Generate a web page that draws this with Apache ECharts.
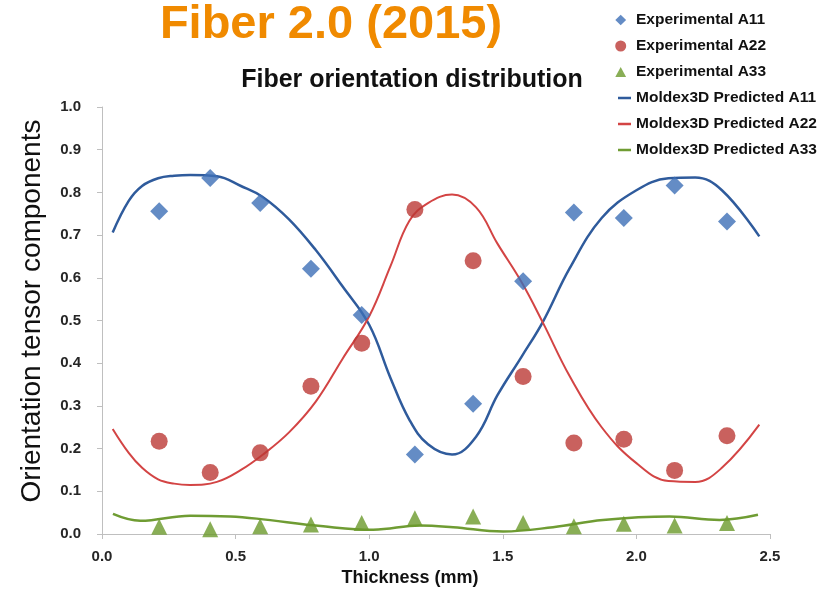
<!DOCTYPE html>
<html>
<head>
<meta charset="utf-8">
<script src="https://cdn.jsdelivr.net/npm/echarts@6/dist/echarts.min.js"></script>
<style>
  html, body { margin: 0; padding: 0; background: #fff; }
  #chart { width: 832px; height: 590px; }
</style>
</head>
<body>
<div id="chart"></div>
<script>
// measured points (thickness in mm)
const expThickness = [0.214, 0.405, 0.592, 0.782, 0.972, 1.171, 1.389, 1.576, 1.766, 1.953, 2.143, 2.339];
const expA11 = [0.756, 0.834, 0.775, 0.621, 0.513, 0.186, 0.305, 0.592, 0.753, 0.740, 0.816, 0.732];
const expA22 = [0.217, 0.144, 0.190, 0.346, 0.447, 0.760, 0.640, 0.369, 0.213, 0.222, 0.149, 0.230];
const expA33 = [0.017, 0.011, 0.018, 0.022, 0.026, 0.037, 0.041, 0.026, 0.018, 0.024, 0.020, 0.026];

// Moldex3D predicted curves
const predX = [0.04, 0.10, 0.15, 0.21, 0.27, 0.33, 0.43, 0.52, 0.60, 0.70, 0.80, 0.90, 1.00, 1.08, 1.15, 1.22, 1.31, 1.40, 1.48, 1.57, 1.65, 1.75, 1.87, 2.00, 2.12, 2.22, 2.32, 2.46];
const predA11 = [0.706, 0.780, 0.815, 0.833, 0.839, 0.841, 0.838, 0.815, 0.790, 0.737, 0.665, 0.580, 0.490, 0.365, 0.268, 0.210, 0.186, 0.228, 0.325, 0.415, 0.497, 0.622, 0.740, 0.805, 0.833, 0.835, 0.805, 0.697];
const predA22 = [0.246, 0.190, 0.155, 0.128, 0.118, 0.115, 0.122, 0.150, 0.185, 0.238, 0.310, 0.410, 0.510, 0.628, 0.733, 0.775, 0.795, 0.765, 0.680, 0.590, 0.495, 0.370, 0.250, 0.166, 0.124, 0.122, 0.155, 0.256];
const predA33X = [0.041, 0.143, 0.33, 0.48, 0.579, 0.828, 1.015, 1.19, 1.314, 1.501, 1.688, 1.875, 2.124, 2.311, 2.455];
const predA33 = [0.047, 0.031, 0.043, 0.041, 0.036, 0.018, 0.010, 0.020, 0.016, 0.006, 0.016, 0.033, 0.041, 0.033, 0.045];

const xTicks = ['0.0', '0.5', '1.0', '1.5', '2.0', '2.5'];

const FONT = 'Liberation Sans, Arial, sans-serif';
const AXIS_GREY = '#bfbfbf';

// legend icons drawn in an 18x11 box (tiny corner anchors keep the box size)
const ANCHOR = 'M0,0L0.01,0L0,0.01Z M18,11L17.99,11L18,10.99Z ';
const iconDiamond = 'path://' + ANCHOR + 'M2.3,5.5L7.7,0.2L13.1,5.5L7.7,10.8Z';
const iconCircle = 'path://' + ANCHOR + 'M2.2,5.5A5.5,5.5 0 1 0 13.2,5.5A5.5,5.5 0 1 0 2.2,5.5Z';
const iconTriangle = 'path://' + ANCHOR + 'M7.7,0.6L13.1,10.4L2.3,10.4Z';
const iconLine = 'path://' + ANCHOR + 'M5,4.3H18V6.7H5Z';

const zip = (xs, ys) => xs.map((x, i) => [x, ys[i]]);

const chart = echarts.init(document.getElementById('chart'));

const option = {
  animation: false,
  backgroundColor: '#fff',
  grid: { left: 102, right: 62, top: 107, bottom: 56 },
  legend: {
    orient: 'vertical',
    left: 608,
    top: 7,
    itemWidth: 18,
    itemHeight: 11,
    itemGap: 10,
    textStyle: { fontFamily: FONT, fontWeight: 'bold', fontSize: 15.5, color: '#111', lineHeight: 16 },
    data: [
      { name: 'Experimental A11', icon: iconDiamond },
      { name: 'Experimental A22', icon: iconCircle },
      { name: 'Experimental A33', icon: iconTriangle },
      { name: 'Moldex3D Predicted A11', icon: iconLine },
      { name: 'Moldex3D Predicted A22', icon: iconLine },
      { name: 'Moldex3D Predicted A33', icon: iconLine },
    ],
  },
  graphic: [
    {
      type: 'text', x: 331, y: 25,
      style: { text: 'Fiber 2.0 (2015)', fill: '#f08a00', font: 'bold 47px ' + FONT, textAlign: 'center', textVerticalAlign: 'middle' },
    },
    {
      type: 'text', x: 412, y: 80,
      style: { text: 'Fiber orientation distribution', fill: '#111', font: 'bold 25px ' + FONT, textAlign: 'center', textVerticalAlign: 'middle' },
    },
    {
      type: 'text', x: 32, y: 311, rotation: Math.PI / 2,
      style: { text: 'Orientation tensor components', fill: '#111', font: '28px ' + FONT, textAlign: 'center', textVerticalAlign: 'middle' },
    },
    {
      type: 'text', x: 410, y: 578,
      style: { text: 'Thickness (mm)', fill: '#111', font: 'bold 18px ' + FONT, textAlign: 'center', textVerticalAlign: 'middle' },
    },
  ],
  xAxis: {
    type: 'value',
    min: 0,
    max: 2.5,
    interval: 0.5,
    splitLine: { show: false },
    axisLine: { lineStyle: { color: AXIS_GREY, width: 1 } },
    axisTick: { show: true, length: 5, lineStyle: { color: AXIS_GREY } },
    axisLabel: {
      margin: 15,
      fontFamily: FONT, fontWeight: 'bold', fontSize: 15, color: '#262626',
      formatter: (v) => xTicks[Math.round(v / 0.5)],
    },
  },
  yAxis: {
    type: 'value',
    min: 0,
    max: 1,
    interval: 0.1,
    splitLine: { show: false },
    axisLine: { show: true, lineStyle: { color: AXIS_GREY, width: 1 } },
    axisTick: { show: true, length: 5, lineStyle: { color: AXIS_GREY } },
    axisLabel: {
      margin: 21,
      fontFamily: FONT, fontWeight: 'bold', fontSize: 15, color: '#262626',
      formatter: (v) => v.toFixed(1),
    },
  },
  series: [
    {
      name: 'Moldex3D Predicted A11', type: 'line', z: 2, smooth: 0.4, symbol: 'none',
      color: '#2f5b9c', lineStyle: { width: 2.5, color: '#2f5b9c' },
      data: zip(predX, predA11),
    },
    {
      name: 'Moldex3D Predicted A22', type: 'line', z: 2, smooth: 0.4, symbol: 'none',
      color: '#d34444', lineStyle: { width: 2, color: '#d34444' },
      data: zip(predX, predA22),
    },
    {
      name: 'Moldex3D Predicted A33', type: 'line', z: 2, smooth: 0.4, symbol: 'none',
      color: '#6f9c33', lineStyle: { width: 2.5, color: '#6f9c33' },
      data: zip(predA33X, predA33),
    },
    {
      name: 'Experimental A11', type: 'scatter', z: 3, symbol: 'diamond', symbolSize: 18,
      color: '#3d6fb6', itemStyle: { color: '#3d6fb6' },
      data: zip(expThickness, expA11),
    },
    {
      name: 'Experimental A22', type: 'scatter', z: 3, symbol: 'circle', symbolSize: 17,
      color: '#bc3a36', itemStyle: { color: '#bc3a36' },
      data: zip(expThickness, expA22),
    },
    {
      name: 'Experimental A33', type: 'scatter', z: 3, symbol: 'triangle', symbolSize: 16,
      color: '#6b9a2c', itemStyle: { color: '#6b9a2c' },
      data: zip(expThickness, expA33),
    },
  ],
};

chart.setOption(option);
</script>
</body>
</html>
